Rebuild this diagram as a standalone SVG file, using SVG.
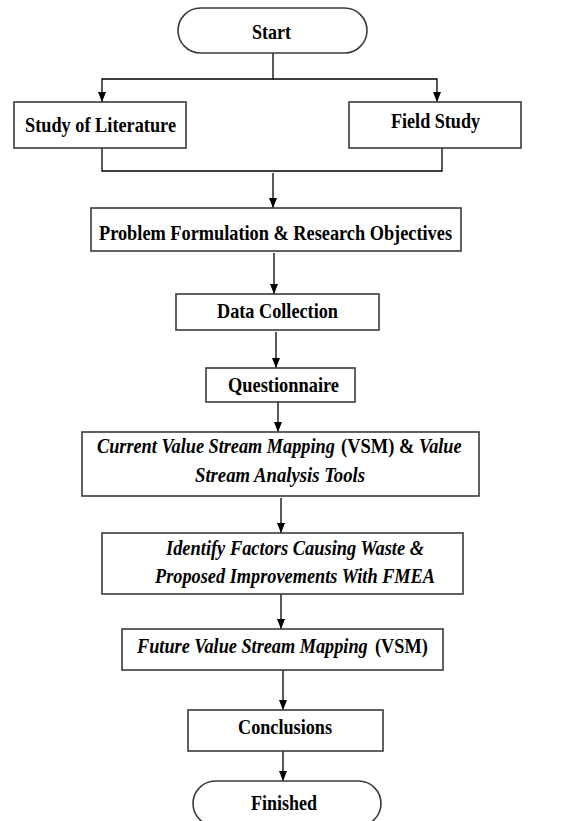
<svg xmlns="http://www.w3.org/2000/svg" width="587" height="821" viewBox="0 0 587 821">
  <defs>
    <marker id="arrow" viewBox="0 0 10 8" refX="10" refY="4" markerWidth="10" markerHeight="8" markerUnits="userSpaceOnUse" orient="auto">
      <path d="M0,0 L10,4 L0,8 z" fill="#000"/>
    </marker>
    <style>
      .box { fill: #fff; stroke: #3a3a3a; stroke-width: 1.6; }
      .lbl { font-family: "Liberation Serif", "Times New Roman", serif; font-weight: bold; font-size: 22px; fill: #000; text-anchor: middle; }
      .st { text-anchor: start; }
      .it { font-style: italic; }
      .wire { fill: none; stroke: #000; stroke-width: 1.3; }
      .arr { marker-end: url(#arrow); }
    </style>
  </defs>

  <rect width="587" height="821" fill="#fff"/>

  <!-- connectors -->
  <g id="connectors">
    <path class="wire arr" d="M273,53 V79 H102 V102"/>
    <path class="wire arr" d="M273,79 H437 V102"/>
    <path class="wire" d="M102,148 V171 H442 V148"/>
    <path class="wire arr" d="M273,173 V208"/>
    <path class="wire arr" d="M274,253 V294"/>
    <path class="wire arr" d="M276,332 V368"/>
    <path class="wire arr" d="M278,402 V432"/>
    <path class="wire arr" d="M281,498 V533"/>
    <path class="wire arr" d="M281,594 V629"/>
    <path class="wire arr" d="M283,670 V710"/>
    <path class="wire arr" d="M283,751 V781"/>
  </g>

  <g id="start">
    <rect class="box" x="178" y="8" width="189" height="45" rx="22.5"/>
    <text class="lbl" x="271.5" y="39" textLength="39" lengthAdjust="spacingAndGlyphs">Start</text>
  </g>

  <g id="literature">
    <rect class="box" x="14" y="102" width="172" height="46"/>
    <text class="lbl" x="100.5" y="132" textLength="151" lengthAdjust="spacingAndGlyphs">Study of Literature</text>
  </g>

  <g id="field-study">
    <rect class="box" x="349" y="102" width="172" height="46"/>
    <text class="lbl" x="435.5" y="128" textLength="89" lengthAdjust="spacingAndGlyphs">Field Study</text>
  </g>

  <g id="problem">
    <rect class="box" x="91" y="208" width="370" height="43"/>
    <text class="lbl" x="275.5" y="240" textLength="353" lengthAdjust="spacingAndGlyphs">Problem Formulation &amp; Research Objectives</text>
  </g>

  <g id="data-collection">
    <rect class="box" x="176" y="294" width="203" height="36"/>
    <text class="lbl" x="277.5" y="318" textLength="121" lengthAdjust="spacingAndGlyphs">Data Collection</text>
  </g>

  <g id="questionnaire">
    <rect class="box" x="206" y="368" width="149" height="34"/>
    <text class="lbl" x="283.5" y="392" textLength="111" lengthAdjust="spacingAndGlyphs">Questionnaire</text>
  </g>

  <!-- mixed italic / upright line: each run narrowed with a horizontal scale -->
  <g id="current-vsm">
    <rect class="box" x="82" y="432" width="397" height="64"/>
    <text class="lbl st it" transform="translate(97,453) scale(0.83,1)">Current Value Stream Mapping</text>
    <text class="lbl st" transform="translate(341,453) scale(0.84,1)">(VSM) &amp;</text>
    <text class="lbl st it" transform="translate(419,453) scale(0.83,1)">Value</text>
    <text class="lbl it" x="280" y="482" textLength="170" lengthAdjust="spacingAndGlyphs">Stream Analysis Tools</text>
  </g>

  <g id="identify">
    <rect class="box" x="102" y="533" width="361" height="61"/>
    <text class="lbl it" x="295" y="555" textLength="258" lengthAdjust="spacingAndGlyphs">Identify Factors Causing Waste &amp;</text>
    <text class="lbl it" x="295" y="583" textLength="280" lengthAdjust="spacingAndGlyphs">Proposed Improvements With FMEA</text>
  </g>

  <g id="future-vsm">
    <rect class="box" x="122" y="629" width="321" height="41"/>
    <text class="lbl st it" transform="translate(137,653) scale(0.83,1)">Future Value Stream Mapping</text>
    <text class="lbl st" transform="translate(375,653) scale(0.83,1)">(VSM)</text>
  </g>

  <g id="conclusions">
    <rect class="box" x="188" y="710" width="195" height="41"/>
    <text class="lbl" x="285" y="734" textLength="94" lengthAdjust="spacingAndGlyphs">Conclusions</text>
  </g>

  <g id="finished">
    <rect class="box" x="193" y="781" width="188" height="45" rx="22.5"/>
    <text class="lbl" x="284" y="810" textLength="66" lengthAdjust="spacingAndGlyphs">Finished</text>
  </g>
</svg>
